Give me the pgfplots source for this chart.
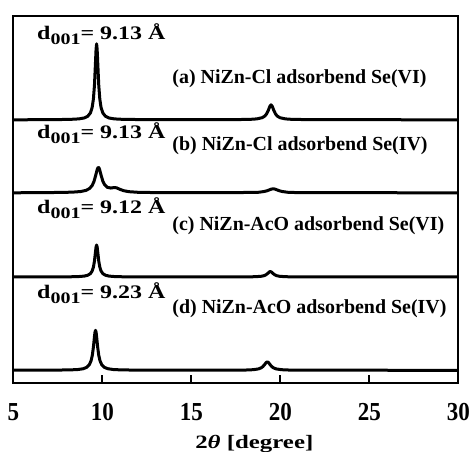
\documentclass[border=0pt]{standalone}
\usepackage{fontspec}
\setmainfont{Liberation Serif}
\usepackage{graphicx}
\usepackage{pgfplots}
\pgfplotsset{compat=1.18}
\newcommand\dlab[1]{\resizebox{128.3bp}{\height}{\fontsize{19.2}{20}\selectfont\bfseries d\raisebox{-5.3bp}{\fontsize{16}{17}\selectfont 001}= #1 Å}}
\newcommand\alab[1]{\fontsize{20}{22}\selectfont\bfseries #1}
\begin{document}
\begin{tikzpicture}[x=1bp,y=1bp]
\path[use as bounding box] (-13.3,-68.7) rectangle (456.7,383.3);
\begin{axis}[
 at={(0,0)}, anchor=south west,
 scale only axis, width=445bp, height=367bp,
 xmin=5, xmax=30, ymin=69, ymax=436,
 xtick={5,10,...,30}, ytick=\empty,
 tick align=inside, xtick pos=bottom,
 major tick length=8bp,
 axis line style={line width=2.2bp},
 major tick style={black, line width=2bp},
 /pgf/number format/assume math mode=true,
 xticklabel style={anchor=base, yshift=-37bp, font=\fontsize{26}{28}\selectfont\bfseries},
 xticklabel={\scalebox{0.89}[1]{\pgfmathprintnumber{\tick}}},
 clip=false,
]
% (a)
\addplot[black, line width=3bp, line join=round] table {
5 332.5
7 332.6
8.18 332.9
8.68 333.4
8.98 334.3
9.18 336.0
9.33 339.3
9.43 344.8
9.50 353.2
9.56 367.2
9.62 391.1
9.65 403.2
9.68 408.5
9.71 403.2
9.74 391.1
9.80 367.2
9.86 353.2
9.93 344.8
10.03 339.3
10.18 336.0
10.38 334.3
10.68 333.4
11.18 332.9
13 332.6
17 332.6
18.28 332.9
18.68 333.4
18.98 334.6
19.13 336.2
19.23 338.4
19.33 342.1
19.41 345.9
19.48 347.5
19.55 345.9
19.63 342.1
19.73 338.4
19.83 336.2
19.98 334.6
20.28 333.4
20.68 332.9
22 332.6
30 332.5
};
% (b)
\addplot[black, line width=3bp, line join=round] table {
5 259.5
7 259.7
8.28 260.1
8.78 260.75
9.08 261.9
9.28 263.75
9.43 266.8
9.53 270.7
9.63 277.0
9.71 282.6
9.75 284.4
9.78 284.96
9.81 284.5
9.85 282.7
9.93 277.2
10.03 271.2
10.13 267.55
10.28 265.0
10.48 264.25
10.65 264.7
10.8 264.5
11.0 262.9
11.2 261.6
11.5 260.6
12.0 260.0
13 259.7
17 259.6
18.4 259.89
18.8 260.05
19.1 260.82
19.25 261.5
19.4 262.51
19.5 263.2
19.6 263.5
19.7 263.2
19.8 262.51
19.95 261.5
20.1 260.82
20.4 260.05
20.8 259.79
22 259.6
30 259.5
};
% (c)
\addplot[black, line width=3bp, line join=round] table {
5 175.3
7 175.4
8.18 175.5
8.68 175.75
8.98 176.19
9.18 177.04
9.33 178.67
9.43 181.29
9.50 185.15
9.56 191.3
9.62 200.9
9.65 205.4
9.68 207.3
9.71 205.4
9.74 200.9
9.80 191.3
9.86 185.15
9.93 181.29
10.03 178.67
10.18 177.04
10.38 176.19
10.68 175.75
11.18 175.5
13 175.4
17 175.4
18.24 175.45
18.64 175.62
18.94 176.06
19.09 176.65
19.19 177.45
19.29 178.82
19.37 180.2
19.44 180.8
19.51 180.2
19.59 178.82
19.69 177.45
19.79 176.65
19.94 176.06
20.24 175.62
20.64 175.45
22 175.4
30 175.3
};
% (d)
\addplot[black, line width=3bp, line join=round] table {
5 82.2
7 82.2
8.12 82.35
8.62 82.77
8.92 83.54
9.12 84.91
9.27 87.52
9.37 91.55
9.44 97.1
9.50 105.1
9.56 115.8
9.59 120.2
9.62 122
9.65 120.2
9.68 115.8
9.74 105.1
9.80 97.1
9.87 91.55
9.97 87.52
10.12 84.91
10.32 83.54
10.62 82.77
11.12 82.35
13 82.1
17 82.1
18.07 82.28
18.47 82.6
18.77 83.38
18.92 84.41
19.02 85.71
19.12 87.8
19.20 89.7
19.27 90.5
19.34 89.7
19.42 87.8
19.52 85.71
19.62 84.41
19.77 83.38
20.07 82.6
20.47 82.28
22 82.1
30 82.0
};
\node[anchor=base west, inner sep=0] at (axis cs:6.33,413) {\dlab{9.13}};
\node[anchor=base west, inner sep=0] at (axis cs:6.33,314) {\dlab{9.13}};
\node[anchor=base west, inner sep=0] at (axis cs:6.33,238.7) {\dlab{9.12}};
\node[anchor=base west, inner sep=0] at (axis cs:6.33,153.7) {\dlab{9.23}};
\node[anchor=base west, inner sep=0] at (axis cs:13.93,369) {\alab{(a) NiZn-Cl adsorbend Se(VI)}};
\node[anchor=base west, inner sep=0] at (axis cs:13.93,302) {\alab{(b) NiZn-Cl adsorbend Se(IV)}};
\node[anchor=base west, inner sep=0] at (axis cs:13.93,222) {\alab{(c) NiZn-AcO adsorbend Se(VI)}};
\node[anchor=base west, inner sep=0] at (axis cs:13.93,139) {\alab{(d) NiZn-AcO adsorbend Se(IV)}};
\node[anchor=base, inner sep=0] at (axis cs:18.54,4.3) {\resizebox{118bp}{\height}{\fontsize{19}{20}\selectfont\bfseries 2\textit{θ} [degree]}};
\end{axis}
\end{tikzpicture}
\end{document}
